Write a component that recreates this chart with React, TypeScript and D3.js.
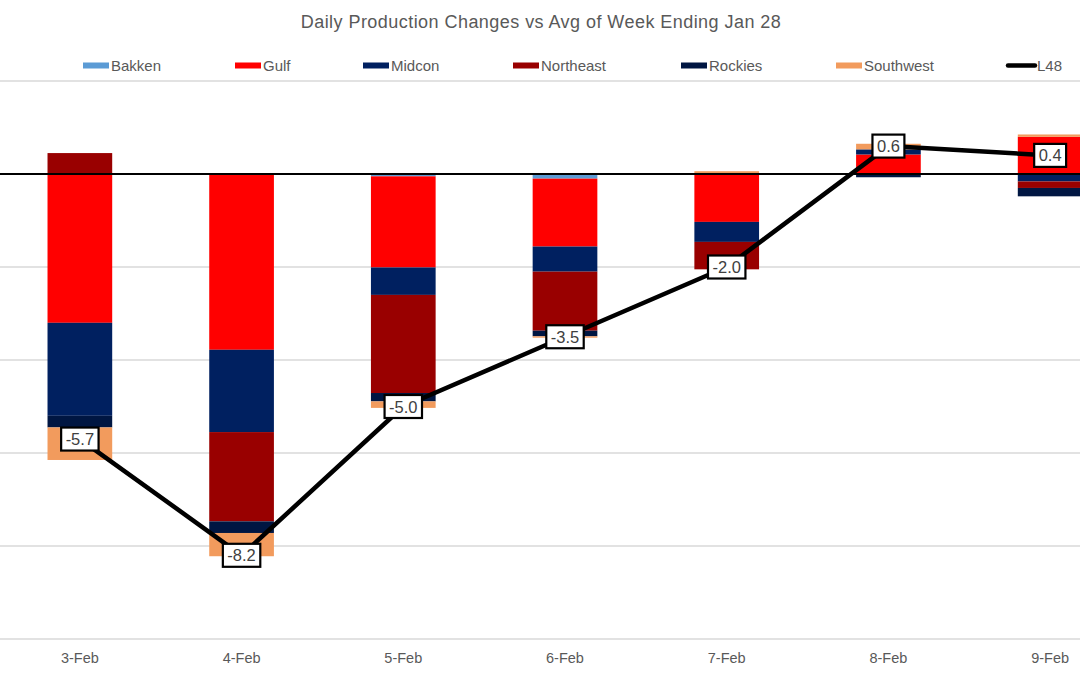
import React from "react";
import * as d3 from "d3";

const categories = ["3-Feb", "4-Feb", "5-Feb", "6-Feb", "7-Feb", "8-Feb", "9-Feb"];
const seriesNames = ["Bakken", "Gulf", "Midcon", "Northeast", "Rockies", "Southwest"];
const bakken = [0, 0, -0.05, -0.1, 0, 0, 0];
const gulf = [-3.2, -3.78, -1.96, -1.46, -1.03, 0.42, 0.8];
const midcon = [-2.0, -1.77, -0.59, -0.54, -0.43, 0.11, -0.16];
const northeast = [0.45, -1.92, -2.11, -1.27, -0.59, 0, -0.14];
const rockies = [-0.25, -0.25, -0.18, -0.12, 0, -0.07, -0.18];
const southwest = [-0.7, -0.5, -0.14, -0.03, 0.06, 0.12, 0.05];
const l48 = [-5.7, -8.2, -5.0, -3.5, -2.0, 0.6, 0.4];
const yTicks = [2, 0, -2, -4, -6, -8, -10];

const colors = ["#5B9BD5", "#FF0000", "#002060", "#990000", "#001642", "#F29B5D"];
const W = 1080;
const H = 675;
const FONT = "'Liberation Sans', Arial, sans-serif";
const TEXT = "#595959";

function textW(s: string, size: number) {
  let w = 0;
  for (const c of s) w += c === "-" ? 0.333 : c === "." ? 0.278 : 0.556;
  return w * size;
}

export default function App() {
  const x = d3.scaleBand<string>().domain(categories).range([-1, 1131]).paddingInner(0.6).paddingOuter(0.3);
  const y = d3.scaleLinear().domain([-10, 2]).range([639, 81]);
  const data = categories.map((c, i) => ({
    cat: c,
    Bakken: bakken[i],
    Gulf: gulf[i],
    Midcon: midcon[i],
    Northeast: northeast[i],
    Rockies: rockies[i],
    Southwest: southwest[i],
  }));
  const stacked = d3.stack<any>().keys(seriesNames).offset(d3.stackOffsetDiverging)(data);
  const cx = (c: string) => (x(c) as number) + x.bandwidth() / 2;
  const line = d3.line<number>().x((_, i) => cx(categories[i])).y((v) => y(v));

  const legend = [
    { name: "Bakken", x: 83 },
    { name: "Gulf", x: 235 },
    { name: "Midcon", x: 363 },
    { name: "Northeast", x: 513 },
    { name: "Rockies", x: 681 },
    { name: "Southwest", x: 836 },
  ];

  return (
    <div style={{ position: "absolute", left: 0, top: 0 }}>
      <svg width={W} height={H} style={{ display: "block", background: "#fff" }} fontFamily={FONT}>
        <rect width={W} height={H} fill="#fff" />
        <text x={541} y={27.5} textAnchor="middle" fontSize={18} letterSpacing={0.45} fill={TEXT}>
          Daily Production Changes vs Avg of Week Ending Jan 28
        </text>
        {legend.map((l, i) => (
          <g key={l.name}>
            <rect x={l.x} y={62.5} width={26} height={6} fill={colors[i]} />
            <text x={l.x + 28} y={71} fontSize={15} fill={TEXT}>
              {l.name}
            </text>
          </g>
        ))}
        <line x1={1008} x2={1035} y1={65.5} y2={65.5} stroke="#000" strokeWidth={4.5} strokeLinecap="round" />
        <text x={1037} y={71} fontSize={15} fill={TEXT}>
          L48
        </text>
        {yTicks.filter((t) => t !== 0).map((t) => (
          <line key={t} x1={0} x2={W} y1={y(t)} y2={y(t)} stroke="#D9D9D9" strokeWidth={1.3} />
        ))}
        {stacked.map((s, si) => (
          <g key={s.key} fill={colors[si]}>
            {s.map((d, i) => {
              const top = y(Math.max(d[0], d[1]));
              const bot = y(Math.min(d[0], d[1]));
              if (bot - top <= 0) return null;
              return <rect key={i} x={x(categories[i])} y={top} width={x.bandwidth()} height={bot - top} />;
            })}
          </g>
        ))}
        <line x1={0} x2={W} y1={y(0)} y2={y(0)} stroke="#000" strokeWidth={2.2} />
        <path d={line(l48) || ""} fill="none" stroke="#000" strokeWidth={4.5} strokeLinejoin="round" />
        {l48.map((v, i) => {
          const label = v.toFixed(1);
          const w = textW(label, 16.5) + 9;
          const px = cx(categories[i]);
          const py = y(v);
          return (
            <g key={i}>
              <rect x={px - w / 2} y={py - 11.5} width={w} height={23} fill="#fff" stroke="#000" strokeWidth={2.2} />
              <text x={px} y={py + 6} textAnchor="middle" fontSize={16.5} fill="#404040">
                {label}
              </text>
            </g>
          );
        })}
        {categories.map((c) => (
          <text key={c} x={cx(c)} y={663} textAnchor="middle" fontSize={14.5} fill={TEXT}>
            {c}
          </text>
        ))}
      </svg>
    </div>
  );
}
